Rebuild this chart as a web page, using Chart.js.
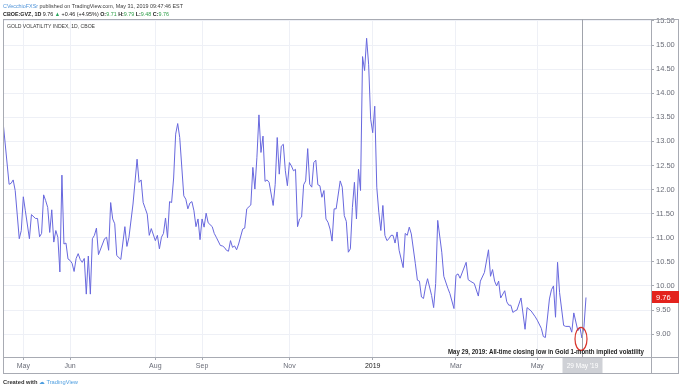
<!DOCTYPE html>
<html><head><meta charset="utf-8">
<script src="https://cdn.jsdelivr.net/npm/chart.js@4/dist/chart.umd.min.js"></script>
<style>html,body{margin:0;padding:0;background:#fff;overflow:hidden}#wrap{width:680px;height:389px;position:relative}canvas{display:block}</style>
</head><body><div id="wrap"><canvas id="c" width="680" height="389"></canvas></div>
<script>
// trading-day index of each reading (0 = mid-April 2018)
const dayIndex = [0,3,4,5,6,8,9,10,11,13,14,16,17,18,19,20,21,22,23,24,25,26,27,28,29,30,31,32,33,34,35,36,37,38,39,40,41,42,43,44,45,46,47,49,50,51,52,53,54,55,56,58,60,61,62,64,66,67,68,69,70,71,72,73,75,76,77,78,79,80,81,82,83,84,85,86,87,89,90,91,92,93,94,95,96,97,98,99,100,101,103,104,105,107,108,109,110,111,112,113,114,115,116,118,119,120,122,123,124,125,126,127,128,129,130,131,133,134,135,136,137,138,139,140,141,142,143,144,145,146,147,148,149,150,151,152,153,154,155,156,157,158,159,160,161,162,163,164,166,167,168,169,170,171,172,173,174,175,176,177,178,179,180,181,182,183,184,185,186,187,188,189,190,191,192,193,194,195,197,198,199,200,201,203,204,205,206,207,208,209,211,212,213,214,216,217,219,220,222,223,224,225,228,229,230,232,234,235,237,239,240,241,242,243,244,245,247,248,249,250,251,252,253,255,257,258,260,262,263,265,266,267,269,270,271,272,273,274,276,277,279,280,281,283,284,285,286,287];
// CBOE Gold Volatility Index (GVZ) daily close
const gvzClose = [13.42,12.11,12.13,12.20,11.98,10.98,11.15,11.85,11.56,10.98,11.48,11.40,11.40,11.02,11.09,11.89,11.77,11.63,11.11,11.58,10.91,11.15,11.01,10.29,12.30,10.87,10.89,10.56,10.53,10.47,10.30,10.57,10.67,10.55,10.49,10.57,9.83,10.62,9.83,10.98,11.05,11.20,10.65,10.87,10.98,11.01,10.74,11.73,11.39,11.29,10.63,10.55,11.23,10.82,11.01,11.70,12.63,12.15,12.20,11.73,11.61,11.49,11.05,11.19,10.94,11.05,10.77,11.01,11.09,11.41,11.00,11.75,11.73,12.24,13.15,13.37,13.08,11.87,11.80,11.60,11.72,11.75,11.56,11.23,11.39,10.96,11.39,11.22,11.51,11.31,11.23,11.09,11.01,10.84,10.83,10.80,10.74,10.72,10.94,10.80,10.83,10.75,10.87,11.18,11.20,11.60,11.68,12.46,12.01,12.67,13.55,12.77,13.11,12.17,12.20,12.15,11.67,12.11,13.08,12.32,12.90,12.94,12.39,12.08,12.56,12.49,12.39,12.42,11.23,11.39,11.43,12.10,12.18,12.85,12.11,12.05,12.56,12.61,12.10,12.08,11.84,11.98,11.39,11.32,11.18,10.93,11.60,11.60,12.18,12.05,11.46,11.34,10.70,10.77,11.63,12.15,11.39,12.42,11.98,14.76,14.47,15.14,14.59,13.46,13.18,13.73,12.05,11.53,11.15,11.67,11.05,10.94,10.98,11.05,11.05,10.89,11.12,10.74,10.38,11.09,11.05,11.22,11.08,10.46,10.12,10.10,9.77,9.74,9.98,10.15,9.80,9.55,10.05,11.36,10.70,10.20,9.95,9.84,9.53,10.22,10.25,10.16,10.49,10.13,10.10,10.05,9.79,10.10,10.28,10.75,10.20,10.34,10.10,10.00,10.10,9.75,9.90,9.67,9.60,9.60,9.45,9.48,9.50,9.75,9.10,9.55,9.48,9.36,9.29,9.12,8.95,8.93,9.73,9.92,10.00,9.35,10.49,9.86,9.18,9.16,9.16,9.04,9.44,9.07,9.14,8.92,9.15,9.76];
const monthTickIndex = [10,33,75,98,141,182,223,263];
const monthTickLabels = ['May','Jun','Aug','Sep','Nov','2019','Mar','May'];
const priceTicks = [9.0,9.5,10.0,10.5,11.0,11.5,12.0,12.5,13.0,13.5,14.0,14.5,15.0,15.5];
const lowIndex = 285;          // May 29, 2019
const lowValue = 8.92;
const crosshairDate = "29 May '19";
const noteText = 'May 29, 2019: All-time closing low in Gold 1-month implied volatility';
const chartTitle = 'GOLD VOLATILITY INDEX, 1D, CBOE';

const FONT = '"Liberation Sans", Arial, sans-serif';
function richText(ctx, segs, x, y, width, size){
  ctx.save();
  ctx.textBaseline = 'middle'; ctx.textAlign = 'left';
  let total = 0;
  segs.forEach(s => { ctx.font = (s.b ? 'bold ' : '') + size + 'px ' + FONT; s.w = ctx.measureText(s.t).width; total += s.w; });
  const f = width / total;
  ctx.translate(x, y); ctx.scale(f, 1);
  let cx = 0;
  segs.forEach(s => { ctx.font = (s.b ? 'bold ' : '') + size + 'px ' + FONT; ctx.fillStyle = s.c; ctx.fillText(s.t, cx, 0); cx += s.w; });
  ctx.restore();
}

const decor = {
  id: 'decor',
  beforeDraw(chart){
    const ctx = chart.ctx; ctx.save(); ctx.fillStyle = '#fff'; ctx.fillRect(0,0,chart.width,chart.height); ctx.restore();
  },
  afterDraw(chart){
    const ctx = chart.ctx, xs = chart.scales.x, ys = chart.scales.y, ca = chart.chartArea;
    ctx.save();
    ctx.lineWidth = 1;
    // frame
    ctx.strokeStyle = '#a8abb3';
    ctx.strokeRect(3.5, 19.5, 675, 354);
    ctx.beginPath(); ctx.moveTo(3.5, Math.round(ca.bottom)+0.5); ctx.lineTo(678.5, Math.round(ca.bottom)+0.5); ctx.stroke();
    ctx.beginPath(); ctx.moveTo(Math.round(ca.right)+0.5, 19.5); ctx.lineTo(Math.round(ca.right)+0.5, 373.5); ctx.stroke();
    // crosshair at the low
    const xp = Math.round(xs.getPixelForValue(lowIndex)) + 0.5;
    ctx.strokeStyle = '#a0a3ab';
    ctx.beginPath(); ctx.moveTo(xp, ca.top); ctx.lineTo(xp, ca.bottom); ctx.stroke();
    // red ellipse around the low
    ctx.strokeStyle = '#d9342b'; ctx.lineWidth = 1.2;
    ctx.beginPath(); ctx.ellipse(xp - 1.5, ys.getPixelForValue(lowValue) + 1, 6, 11.5, 0, 0, Math.PI * 2); ctx.stroke();
    // annotation
    richText(ctx, [{t: noteText, b: true, c: '#1e1e1e'}], 448, 352, 196, 7);
    // last price label
    const last = gvzClose[gvzClose.length - 1];
    const yp = ys.getPixelForValue(last);
    ctx.fillStyle = '#e3231d'; ctx.fillRect(652, Math.round(yp) - 6, 27, 12);
    ctx.fillStyle = '#fff'; ctx.font = '7.5px ' + FONT; ctx.textBaseline = 'middle'; ctx.textAlign = 'left';
    ctx.fillText(last.toFixed(2), 656, yp);
    // crosshair date label
    ctx.fillStyle = '#cfd1d6'; ctx.fillRect(xp - 20, 358, 40, 15);
    ctx.fillStyle = '#fff'; ctx.textAlign = 'center'; ctx.font = '6.5px ' + FONT;
    ctx.fillText(crosshairDate, xp, 366);
    // header
    richText(ctx, [
      {t: 'CVecchioFXSr', c: '#4f93d8'},
      {t: ' published on TradingView.com, May 31, 2019 09:47:46 EST', c: '#3b3b3b'}
    ], 3, 6.5, 180, 6);
    const g = '#2e9e48', d = '#222';
    richText(ctx, [
      {t: 'CBOE:GVZ, 1D ', b: true, c: d}, {t: '9.76 ', c: d}, {t: '\u25B2', c: '#26a65b'},
      {t: ' +0.46 (+4.95%) ', c: d},
      {t: 'O:', b: true, c: d}, {t: '9.71 ', c: g},
      {t: 'H:', b: true, c: d}, {t: '9.79 ', c: g},
      {t: 'L:', b: true, c: d}, {t: '9.48 ', c: g},
      {t: 'C:', b: true, c: d}, {t: '9.76', c: g}
    ], 3, 14.5, 166, 6);
    richText(ctx, [{t: chartTitle, c: '#3a3a3a'}], 7, 26, 88, 6);
    // footer
    richText(ctx, [{t: 'Created with ', b: true, c: '#333'}, {t: '\u2601 ', c: '#4f9fe0'}, {t: 'TradingView', c: '#4f9fe0'}], 3, 382, 75, 6);
    ctx.restore();
  }
};

new Chart(document.getElementById('c'), {
  type: 'line',
  data: {
    datasets: [{
      label: 'GVZ',
      data: dayIndex.map((x, i) => ({x: x, y: gvzClose[i]})),
      borderColor: 'rgb(104,104,222)',
      borderWidth: 1,
      pointRadius: 0,
      tension: 0,
      fill: false
    }]
  },
  options: {
    responsive: false,
    devicePixelRatio: 1,
    animation: false,
    layout: {padding: {left: 3, top: 19, right: 2, bottom: 16}},
    plugins: {legend: {display: false}, tooltip: {enabled: false}},
    scales: {
      x: {
        type: 'linear', position: 'bottom', min: 0, max: 319,
        afterBuildTicks: s => { s.ticks = monthTickIndex.map(v => ({value: v})); },
        afterFit: s => { s.height = 16; },
        ticks: {
          autoSkip: false, maxRotation: 0, padding: 2,
          font: {family: FONT, size: 7},
          color: c => (monthTickLabels[c.index] === '2019' ? '#222' : '#6a6d78'),
          callback: (v, i) => monthTickLabels[i]
        },
        grid: {color: '#eef0f6', tickLength: 3, tickColor: '#a8abb3', drawTicks: true},
        border: {display: false}
      },
      y: {
        position: 'right', min: 8.525, max: 15.54,
        afterBuildTicks: s => { s.ticks = priceTicks.map(v => ({value: v})); },
        afterFit: s => { s.width = 27; },
        ticks: {
          padding: 2,
          font: {family: FONT, size: 7.5},
          color: '#6a6d78',
          callback: v => Number(v).toFixed(2)
        },
        grid: {color: '#eef0f6', tickLength: 3, tickColor: '#a8abb3', drawTicks: true},
        border: {display: false}
      }
    }
  },
  plugins: [decor]
});
</script>
</body></html>
